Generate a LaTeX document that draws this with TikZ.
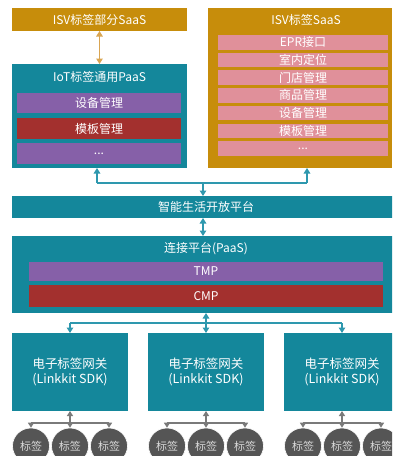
\documentclass[tikz,border=0pt]{standalone}
\usepackage{fontspec}
\setmainfont{Noto Sans CJK SC}
\usetikzlibrary{arrows.meta,shapes.geometric}
\definecolor{tealbox}{HTML}{14879B}
\definecolor{tealline}{HTML}{2E98AE}
\definecolor{goldbox}{HTML}{C78D0B}
\definecolor{goldline}{HTML}{D9A552}
\definecolor{purplebox}{HTML}{8660A8}
\definecolor{redbox}{HTML}{A3302E}
\definecolor{pinkbox}{HTML}{E0909A}
\definecolor{tagfill}{HTML}{555555}
\definecolor{tagline}{HTML}{7A7A7A}
\begin{document}
\begin{tikzpicture}[x=1pt,y=-1pt,
  box/.style={anchor=north west,inner sep=0pt,outer sep=0pt,text=white,
    font=\fontsize{12}{14}\selectfont},
  lbl/.style={inner sep=0pt,text=white,font=\fontsize{12}{14}\selectfont},
  tline/.style={draw=tealline,line width=1.2pt},
  tarr/.style={tline,-{Triangle[length=5.5pt,width=6.5pt]}},
  tarr2/.style={tline,{Triangle[length=5.5pt,width=6.5pt]}-{Triangle[length=5.5pt,width=6.5pt]}},
  oarr2/.style={draw=goldline,line width=1.2pt,{Triangle[length=5.5pt,width=6.5pt]}-{Triangle[length=5.5pt,width=6.5pt]}},
  gline/.style={draw=tagline,line width=1.2pt},
  garr/.style={gline,-{Triangle[length=5pt,width=6pt]}},
  garr2/.style={gline,{Triangle[length=5pt,width=6pt]}-{Triangle[length=5pt,width=6pt]}},
  tag/.style={ellipse,minimum width=37pt,minimum height=36pt,inner sep=0pt,
    fill=tagfill,draw=white,line width=0.6pt,text=white!85!black,
    font=\fontsize{11}{12}\selectfont},
  gw/.style={box,fill=tealbox,minimum width=116pt,minimum height=78pt,
    align=center,font=\fontsize{12.5}{15.5}\selectfont},
  pinkrow/.style={box,fill=pinkbox,minimum width=170pt,minimum height=14.5pt}
]
\useasboundingbox (0,0) rectangle (392,456);
\clip (0,0) rectangle (392,456);
\fill[white] (0,0) rectangle (392,456);

% ISV partial SaaS
\node[box,fill=goldbox,minimum width=175pt,minimum height=23pt] (isvp) at (12,8) {ISV标签部分SaaS};

% IoT PaaS
\node[box,fill=tealbox,minimum width=175pt,minimum height=104pt] (iot) at (12,64) {};
\node[lbl] (iott) at (99.5,77) {IoT标签通用PaaS};
\node[box,fill=purplebox,minimum width=164pt,minimum height=20pt] (iot1) at (17,93) {设备管理};
\node[box,fill=redbox,minimum width=164pt,minimum height=21pt] (iot2) at (17,118) {模板管理};
\node[box,fill=purplebox,minimum width=164pt,minimum height=21pt] (iot3) at (17,143) {...};

% ISV SaaS
\node[box,fill=goldbox,minimum width=184pt,minimum height=160pt] (isv) at (208,8) {};
\node[lbl] (isvt) at (306,20) {ISV标签SaaS};
\node[pinkrow] (r1) at (218,35) {EPR接口};
\node[pinkrow] (r2) at (218,52.7) {室内定位};
\node[pinkrow] (r3) at (218,70.4) {门店管理};
\node[pinkrow] (r4) at (218,88.1) {商品管理};
\node[pinkrow] (r5) at (218,105.8) {设备管理};
\node[pinkrow] (r6) at (218,123.5) {模板管理};
\node[pinkrow] (r7) at (218,141.2) {...};

% platform
\node[box,fill=tealbox,minimum width=388pt,minimum height=22pt] (plat) at (12,196) {智能生活开放平台};

% connection platform
\node[box,fill=tealbox,minimum width=388pt,minimum height=77pt] (conn) at (12,236) {};
\node[lbl] (connt) at (206,249) {连接平台(PaaS)};
\node[box,fill=purplebox,minimum width=354pt,minimum height=19pt] (tmp) at (29,262) {TMP};
\node[box,fill=redbox,minimum width=354pt,minimum height=22pt] (cmp) at (29,285) {CMP};

% gateways
\node[gw] (g1) at (12,333) {电子标签网关\\(Linkkit SDK)};
\node[gw] (g2) at (148,333) {电子标签网关\\(Linkkit SDK)};
\node[gw] (g3) at (284,333) {电子标签网关\\(Linkkit SDK)};

% tags
\node[tag] (t11) at (31,446) {标签};
\node[tag] (t12) at (70,446) {标签};
\node[tag] (t13) at (109,446) {标签};
\node[tag] (t21) at (167,446) {标签};
\node[tag] (t22) at (206,446) {标签};
\node[tag] (t23) at (245,446) {标签};
\node[tag] (t31) at (303,446) {标签};
\node[tag] (t32) at (342,446) {标签};
\node[tag] (t33) at (381,446) {标签};

% connectors top
\draw[oarr2] (isvp.south) -- (iot.north);
\coordinate (pL) at (97,183);
\coordinate (pR) at (307,183);
\coordinate (ax) at (203,0);
\draw[tline] (pL) -- (pR);
\draw[tarr] (pL) -- (pL |- iot.south);
\draw[tarr] (pR) -- (pR |- isv.south);
\draw[tarr] (ax |- pL) -- (ax |- plat.north);
\draw[tarr2] (ax |- plat.south) -- (ax |- conn.north);

% connectors to gateways
\coordinate (gb) at (0,323);
\draw[tline] (g1.north |- gb) -- (g3.north |- gb);
\draw[tarr] (g1.north |- gb) -- (g1.north);
\draw[tarr] (g3.north |- gb) -- (g3.north);
\draw[tarr2] (g2.north |- conn.south) -- (g2.north);

% connectors to tags
\coordinate (tb) at (0,423);
\draw[gline] (t11.north |- tb) -- (t13.north |- tb);
\draw[garr] (t11.north |- tb) -- (t11.north);
\draw[garr] (t13.north |- tb) -- (t13.north);
\draw[garr2] (g1.south) -- (t12.north);
\draw[gline] (t21.north |- tb) -- (t23.north |- tb);
\draw[garr] (t21.north |- tb) -- (t21.north);
\draw[garr] (t23.north |- tb) -- (t23.north);
\draw[garr2] (g2.south) -- (t22.north);
\draw[gline] (t31.north |- tb) -- (t33.north |- tb);
\draw[garr] (t31.north |- tb) -- (t31.north);
\draw[garr] (t33.north |- tb) -- (t33.north);
\draw[garr2] (g3.south) -- (t32.north);
\end{tikzpicture}
\end{document}
